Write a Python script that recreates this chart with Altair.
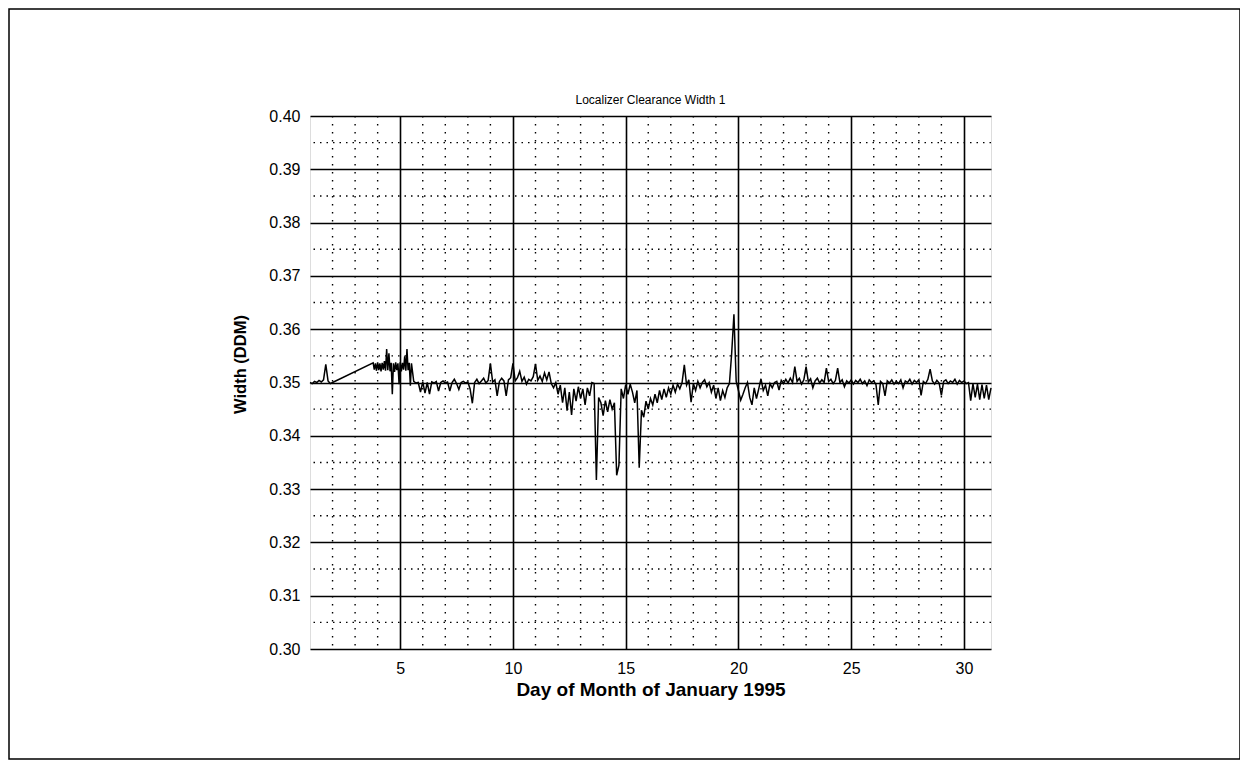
import altair as alt
import pandas as pd

# ---- data ----
seg_a_start = 1.0
seg_a_step = 0.1
seg_a_width = [0.3500, 0.3498, 0.3502, 0.3500, 0.3504, 0.3501, 0.3505, 0.3534, 0.3503, 0.3498, 0.3500]

# dense block of readings, days 3.8 - 5.5
seg_b_start = 3.8
seg_b_step = 0.05
seg_b_width = [
    0.3537, 0.3524, 0.3536, 0.3522, 0.3538, 0.3523, 0.3536, 0.3521, 0.3537, 0.3524,
    0.3540, 0.3522, 0.3563, 0.3523, 0.3555, 0.3521, 0.3537, 0.3478, 0.3536, 0.3520,
    0.3538, 0.3523, 0.3536, 0.3497, 0.3538, 0.3521, 0.3537, 0.3524, 0.3549, 0.3522,
    0.3563, 0.3523, 0.3537, 0.3494, 0.3536,
]

seg_c_start = 5.6
seg_c_step = 0.1
seg_c_width = [
    0.3502, 0.3499, 0.3500, 0.3482,                                                  # day 5.6-5.9
    0.3501, 0.3480, 0.3500, 0.3478, 0.3501, 0.3499, 0.3502, 0.3484, 0.3500, 0.3503,  # day 6
    0.3499, 0.3501, 0.3484, 0.3500, 0.3506, 0.3498, 0.3487, 0.3500, 0.3502, 0.3499,  # day 7
    0.3501, 0.3488, 0.3461, 0.3500, 0.3506, 0.3498, 0.3503, 0.3508, 0.3499, 0.3504,  # day 8
    0.3536, 0.3501, 0.3505, 0.3475, 0.3502, 0.3508, 0.3503, 0.3475, 0.3505, 0.3509,  # day 9
    0.3536, 0.3503, 0.3509, 0.3521, 0.3502, 0.3510, 0.3497, 0.3506, 0.3503, 0.3511,  # day 10
    0.3535, 0.3504, 0.3512, 0.3502, 0.3518, 0.3505, 0.3520, 0.3498, 0.3490, 0.3500,  # day 11
    0.3478, 0.3495, 0.3462, 0.3490, 0.3447, 0.3482, 0.3439, 0.3488, 0.3465, 0.3492,  # day 12
    0.3470, 0.3488, 0.3458, 0.3490, 0.3475, 0.3500, 0.3498, 0.3317, 0.3472, 0.3462,  # day 13
    0.3438, 0.3466, 0.3445, 0.3468, 0.3450, 0.3462, 0.3326, 0.3345, 0.3488, 0.3470,  # day 14
    0.3496, 0.3478, 0.3497, 0.3482, 0.3462, 0.3485, 0.3340, 0.3448, 0.3435, 0.3465,  # day 15
    0.3450, 0.3470, 0.3458, 0.3478, 0.3462, 0.3485, 0.3468, 0.3488, 0.3472, 0.3490,  # day 16
    0.3478, 0.3495, 0.3482, 0.3497, 0.3488, 0.3500, 0.3533, 0.3495, 0.3505, 0.3463,  # day 17
    0.3498, 0.3485, 0.3502, 0.3490, 0.3500, 0.3505, 0.3492, 0.3500, 0.3482, 0.3495,  # day 18
    0.3470, 0.3490, 0.3466, 0.3485, 0.3472, 0.3490, 0.3498, 0.3555, 0.3628, 0.3502,  # day 19
    0.3485, 0.3467, 0.3478, 0.3490, 0.3500, 0.3472, 0.3458, 0.3490, 0.3470, 0.3488,  # day 20
    0.3507, 0.3485, 0.3495, 0.3475, 0.3498, 0.3490, 0.3500, 0.3502, 0.3486, 0.3504,  # day 21
    0.3498, 0.3506, 0.3499, 0.3508, 0.3500, 0.3530, 0.3502, 0.3508, 0.3497, 0.3505,  # day 22
    0.3530, 0.3501, 0.3507, 0.3490, 0.3503, 0.3508, 0.3499, 0.3505, 0.3500, 0.3527,  # day 23
    0.3502, 0.3506, 0.3498, 0.3504, 0.3527, 0.3500, 0.3505, 0.3492, 0.3503, 0.3499,  # day 24
    0.3505, 0.3497, 0.3504, 0.3500, 0.3506, 0.3498, 0.3503, 0.3494, 0.3505, 0.3500,  # day 25
    0.3503, 0.3496, 0.3458, 0.3502, 0.3498, 0.3475, 0.3503, 0.3499, 0.3505, 0.3497,  # day 26
    0.3502, 0.3498, 0.3505, 0.3490, 0.3503, 0.3500, 0.3506, 0.3497, 0.3504, 0.3500,  # day 27
    0.3505, 0.3476, 0.3502, 0.3498, 0.3506, 0.3525, 0.3503, 0.3497, 0.3504, 0.3499,  # day 28
    0.3476, 0.3502, 0.3505, 0.3498, 0.3503, 0.3500, 0.3506, 0.3497, 0.3504, 0.3500,  # day 29
    0.3503, 0.3498, 0.3500, 0.3466, 0.3498, 0.3472, 0.3497, 0.3468, 0.3496, 0.3470,  # day 30
    0.3495, 0.3468, 0.3490,                                                          # day 31-31.2
]

x_major_ticks = [5, 10, 15, 20, 25, 30]
x_minor_grid = [2, 3, 4, 6, 7, 8, 9, 11, 12, 13, 14, 16, 17, 18, 19, 21, 22, 23, 24, 26, 27, 28, 29]
y_major_ticks = [0.30, 0.31, 0.32, 0.33, 0.34, 0.35, 0.36, 0.37, 0.38, 0.39, 0.40]
y_minor_grid = [0.305, 0.315, 0.325, 0.335, 0.345, 0.355, 0.365, 0.375, 0.385, 0.395]

title_text = "Localizer Clearance Width 1"
x_title = "Day of Month of January 1995"
y_title = "Width (DDM)"

# ---- build table ----
rows = []
for start, step, vals in [(seg_a_start, seg_a_step, seg_a_width),
                          (seg_b_start, seg_b_step, seg_b_width),
                          (seg_c_start, seg_c_step, seg_c_width)]:
    for i, v in enumerate(vals):
        rows.append({"day": round(start + i * step, 3), "width": v})
df = pd.DataFrame(rows)

FONT = "Liberation Sans, Arial, sans-serif"

xscale = alt.Scale(domain=[1, 31.2], nice=False, zero=False)
yscale = alt.Scale(domain=[0.30, 0.40], nice=False, zero=False)

x_axis = alt.Axis(values=x_major_ticks, grid=True, gridColor="black", gridWidth=1.6, gridOpacity=1,
                  ticks=False, domain=False, labelFont=FONT, labelFontSize=16, labelColor="black",
                  labelPadding=11, title=x_title, titleFont=FONT, titleFontSize=19,
                  titleFontWeight="bold", titleColor="black", titleY=40, titleBaseline="middle")
y_axis = alt.Axis(values=y_major_ticks, format=".2f", grid=True, gridColor="black", gridWidth=1.6,
                  gridOpacity=1, ticks=False, domain=False, labelFont=FONT, labelFontSize=16,
                  labelColor="black", labelPadding=10, title=y_title, titleFont=FONT,
                  titleFontSize=16.5, titleFontWeight="bold", titleColor="black", titleAngle=270,
                  titleX=-70, titleY=248, titleAlign="center", titleBaseline="middle")

line = alt.Chart(df).mark_line(color="black", strokeWidth=1.5).encode(
    x=alt.X("day:Q", scale=xscale, axis=x_axis),
    y=alt.Y("width:Q", scale=yscale, axis=y_axis),
)

xminor = alt.Chart(pd.DataFrame({"day": x_minor_grid})).mark_rule(
    color="black", strokeWidth=1.4, strokeDash=[1.5, 6.5]
).encode(x=alt.X("day:Q", scale=xscale))

yminor = alt.Chart(pd.DataFrame({"width": y_minor_grid})).mark_rule(
    color="black", strokeWidth=1.4, strokeDash=[1.5, 5]
).encode(y=alt.Y("width:Q", scale=yscale))

title = alt.Chart(pd.DataFrame({"t": [title_text]})).mark_text(
    font=FONT, fontSize=12, color="black", align="center", baseline="middle"
).encode(text="t:N", x=alt.value(340.5), y=alt.value(-16))

border = alt.Chart(pd.DataFrame({"a": [0]})).mark_rect(
    fillOpacity=0, stroke="black", strokeWidth=1.5
).encode(x=alt.value(-301), x2=alt.value(930), y=alt.value(-107), y2=alt.value(643))

chart = alt.layer(xminor, yminor, line, title, border).properties(
    width=681,
    height=533,
    padding={"left": 302, "top": 108, "right": 249, "bottom": 111},
    autosize=alt.AutoSizeParams(type="none"),
).configure_view(stroke="black", strokeWidth=1.6).configure(background="white")

chart.save("out.html", embed_options={"renderer": "svg", "actions": False})
